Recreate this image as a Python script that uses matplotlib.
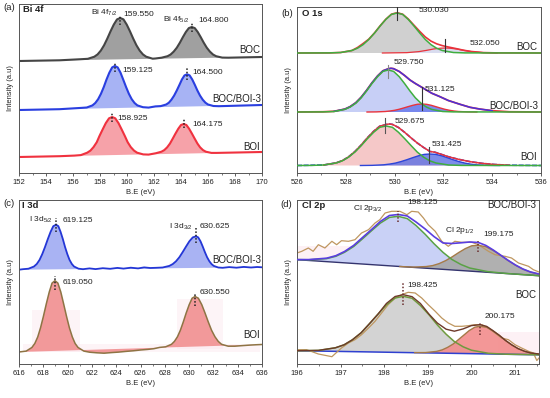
import matplotlib
matplotlib.use('Agg')
import matplotlib.pyplot as plt
from matplotlib.ticker import MultipleLocator
from matplotlib.patches import Rectangle

plt.rcParams['font.family'] = ['Liberation Sans', 'DejaVu Sans']
plt.rcParams['mathtext.fontset'] = 'custom'
plt.rcParams['mathtext.rm'] = 'Liberation Sans'
plt.rcParams['mathtext.it'] = 'Liberation Sans:italic'
plt.rcParams['mathtext.bf'] = 'Liberation Sans:bold'

# ---------------- Panel (a) Bi 4f ----------------
a_boc_x = [152, 155, 156.6, 157.1, 157.58, 157.82, 158.06, 158.3, 158.54, 158.78, 159.02, 159.26, 159.5, 159.74, 159.98, 160.22, 160.46, 160.7, 160.94, 161.18, 161.42, 161.9, 162.1, 162.56, 163.0, 163.23, 163.46, 163.69, 163.92, 164.14, 164.36, 164.58, 164.8, 165.02, 165.24, 165.46, 165.68, 165.91, 166.14, 166.37, 166.6, 167.05, 167.5, 170]
a_boc_y = [112, 112.7, 113.8, 114.2, 116.3, 118.6, 122.4, 127.7, 134.4, 141.7, 148.4, 153.6, 155.0, 153.6, 148.4, 141.7, 134.4, 127.7, 122.4, 118.6, 116.3, 114.3, 114.5, 115.3, 116.8, 118.5, 121.4, 125.3, 130.4, 135.9, 141.0, 144.9, 146.0, 144.9, 141.0, 135.9, 130.4, 125.3, 121.4, 118.5, 116.8, 115.4, 115.3, 116]
a_mix_x = [152, 155, 156.6, 157.02, 157.44, 157.65, 157.86, 158.07, 158.28, 158.48, 158.69, 158.9, 159.1, 159.31, 159.52, 159.72, 159.93, 160.14, 160.35, 160.56, 160.77, 161.18, 161.6, 162.1, 162.5, 162.9, 163.1, 163.29, 163.49, 163.69, 163.89, 164.07, 164.26, 164.45, 164.64, 164.83, 165.02, 165.21, 165.41, 165.61, 165.81, 166.0, 166.4, 166.8, 170]
a_mix_y = [63, 63.8, 65.1, 65.5, 67.6, 70.0, 73.8, 79.2, 86.0, 93.4, 100.3, 105.6, 107.0, 105.6, 100.3, 93.4, 86.0, 79.2, 73.8, 70.0, 67.6, 65.8, 65.4, 66.6, 66.9, 68.5, 70.3, 73.3, 77.4, 82.6, 88.3, 93.6, 97.6, 98.7, 97.6, 93.6, 88.3, 82.6, 77.4, 73.3, 70.3, 68.5, 67.0, 66.8, 68]
a_boi_x = [152, 155, 156.1, 156.58, 157.05, 157.29, 157.52, 157.76, 157.96, 158.2, 158.43, 158.67, 158.9, 159.13, 159.37, 159.6, 159.84, 160.05, 160.28, 160.52, 160.75, 161.2, 161.6, 162.15, 162.55, 162.76, 162.97, 163.18, 163.38, 163.59, 163.8, 164.0, 164.2, 164.4, 164.6, 164.81, 165.02, 165.22, 165.42, 165.63, 165.84, 166.25, 166.65, 170]
a_boi_y = [16, 16.8, 17.4, 17.9, 20.3, 22.4, 25.9, 30.8, 37.0, 43.7, 49.9, 54.7, 56.0, 54.7, 49.9, 43.7, 37.0, 30.8, 25.9, 22.4, 20.3, 18.6, 18.4, 19.8, 21.3, 22.9, 25.6, 29.4, 34.2, 39.4, 44.3, 48.0, 49.0, 48.0, 44.3, 39.4, 34.2, 29.4, 25.6, 22.9, 21.3, 20.1, 20.1, 21]
a_peaks = [159.5, 164.8, 159.1, 164.45, 158.9, 164.2]
a_peak_lo = [148, 141, 101, 93, 51, 45]
a_peak_hi = [158, 151, 111, 105, 60, 55]
a_peak_labels = ['159.550', '164.800', '159.125', '164.500', '158.925', '164.175']

# ---------------- Panel (b) O 1s ----------------
b_boc_c1_x = [526, 527.32, 527.79, 528.25, 528.48, 528.71, 528.94, 529.18, 529.41, 529.64, 529.87, 530.1, 530.33, 530.56, 530.79, 531.03, 531.26, 531.49, 531.72, 531.95, 532.41, 532.88, 536]
b_boc_c1_y = [120, 120.1, 120.5, 122.5, 124.8, 128.4, 133.5, 140.0, 147.1, 153.6, 158.6, 160.0, 158.6, 153.6, 147.1, 140.0, 133.5, 128.4, 124.8, 122.5, 120.5, 120.1, 120]
b_boc_c2_x = [529.5, 530.5, 531.0, 531.3, 531.6, 531.87, 532.07, 532.27, 532.54, 532.84, 533.14, 533.64, 534.2]
b_boc_c2_y = [120, 120.35, 121.4, 122.6, 124.0, 124.8, 125.0, 124.8, 124.0, 122.6, 121.4, 120.35, 120]
b_boc_env_x = [526, 527.32, 527.79, 528.25, 528.48, 528.71, 528.94, 529.18, 529.41, 529.64, 529.87, 530.1, 530.33, 530.56, 530.79, 531.03, 531.26, 531.49, 531.72, 531.95, 532.2, 532.5, 532.84, 533.14, 533.64, 534.2, 536]
b_boc_env_y = [120, 120.1, 120.5, 122.5, 125.5, 129.5, 133.8, 140.2, 147.3, 153.8, 158.8, 160.3, 158.8, 154.0, 147.9, 141.6, 136.0, 131.9, 129.2, 127.4, 126.0, 124.5, 122.7, 121.5, 120.4, 120.1, 120]

b_mix_c1_x = [526, 527.07, 527.52, 527.96, 528.18, 528.41, 528.63, 528.85, 529.07, 529.3, 529.52, 529.74, 529.96, 530.19, 530.41, 530.63, 530.85, 531.08, 531.3, 531.52, 531.97, 532.41, 536]
b_mix_c1_y = [61, 61.1, 61.5, 63.6, 66.0, 69.8, 75.2, 82.0, 89.4, 96.3, 101.6, 103.0, 101.6, 96.3, 89.4, 82.0, 75.2, 69.8, 66.0, 63.6, 61.5, 61.1, 61]
b_mix_c2_x = [528.87, 529.25, 529.62, 529.81, 530.0, 530.18, 530.37, 530.56, 530.75, 530.93, 531.12, 531.31, 531.5, 531.68, 531.87, 532.06, 532.25, 532.43, 532.62, 533.0, 533.37]
b_mix_c2_y = [61.0, 61.1, 61.5, 62.0, 62.7, 63.7, 65.0, 66.4, 67.7, 68.7, 69.0, 68.7, 67.7, 66.4, 65.0, 63.7, 62.7, 62.0, 61.5, 61.1, 61.0]
b_mix_env_x = [526, 527.07, 527.52, 527.96, 528.18, 528.41, 528.63, 528.85, 529.07, 529.3, 529.52, 529.74, 529.85, 529.96, 530.19, 530.41, 530.63, 530.85, 531.08, 531.3, 531.52, 531.86, 532.2, 532.68, 533.09, 533.5, 534.0, 534.7, 536]
b_mix_env_y = [61, 61.2, 61.7, 63.9, 66.4, 70.3, 75.8, 82.6, 90.1, 97.0, 102.2, 104.2, 104.7, 104.3, 101.5, 97.5, 93.0, 89.5, 86.2, 83.0, 79.8, 76.3, 72.5, 68.7, 65.7, 63.9, 62.3, 61.2, 61]

b_boi_c1_x = [526, 526.58, 527.09, 527.6, 527.86, 528.11, 528.37, 528.63, 528.88, 529.14, 529.39, 529.65, 529.91, 530.16, 530.42, 530.68, 530.93, 531.19, 531.44, 531.7, 532.21, 532.73, 536]
b_boi_c1_y = [7.5, 7.6, 8.0, 10.0, 12.2, 15.8, 20.9, 27.3, 34.2, 40.7, 45.7, 47.0, 45.7, 40.7, 34.2, 27.3, 20.9, 15.8, 12.2, 10.0, 8.0, 7.6, 7.5]
b_boi_c2_x = [528.6, 529.08, 529.55, 529.79, 530.03, 530.26, 530.5, 530.74, 530.98, 531.21, 531.45, 531.69, 531.93, 532.16, 532.4, 532.64, 532.88, 533.11, 533.35, 533.83, 534.3]
b_boi_c2_y = [7.5, 7.65, 8.2, 8.9, 9.9, 11.4, 13.25, 15.3, 17.2, 18.6, 19.0, 18.6, 17.2, 15.3, 13.25, 11.4, 9.9, 8.9, 8.2, 7.65, 7.5]
b_boi_env_x = [526, 527.09, 527.6, 527.86, 528.11, 528.37, 528.63, 528.88, 529.14, 529.39, 529.65, 529.78, 529.91, 530.16, 530.42, 530.68, 530.93, 531.19, 531.45, 531.65, 531.9, 532.2, 532.6, 533.1, 533.6, 534.1, 534.7, 536]
b_boi_env_y = [7.5, 8.0, 10.1, 12.4, 16.1, 21.4, 28.0, 35.1, 41.7, 46.8, 48.5, 49.0, 48.6, 45.5, 40.5, 35.0, 30.0, 25.5, 21.5, 20.8, 18.8, 16.3, 13.8, 11.3, 9.6, 8.5, 7.8, 7.5]
b_peaks = [530.09, 532.07, 529.74, 531.11, 529.62, 531.4]
b_peak_lo = [153, 121, 95, 63, 40, 10]
b_peak_hi = [166, 134, 108, 86, 55, 26]
b_peak_labels = ['530.030', '532.050', '529.750', '531.125', '529.675', '531.425']

# ---------------- Panel (c) I 3d ----------------
c_mix_x = [616, 616.32, 616.78, 617.23, 617.46, 617.69, 617.91, 618.14, 618.37, 618.6, 618.82, 619.05, 619.24, 619.42, 619.61, 619.79, 619.98, 620.16, 620.35, 620.53, 620.9, 621.27, 621.8, 622.3, 622.9, 623.5, 624.1, 624.6, 625.2, 625.8, 626.3, 626.8, 627.27, 627.82, 628.37, 628.65, 628.92, 629.2, 629.47, 629.75, 630.02, 630.3, 630.57, 630.75, 630.94, 631.12, 631.3, 631.48, 631.67, 631.85, 632.03, 632.4, 632.76, 633.3, 633.9, 634.5, 635.1, 635.6, 636]
c_mix_y = [94.3, 94.8, 95.3, 97.5, 100.0, 104.1, 109.8, 117.0, 124.9, 132.2, 137.8, 139.3, 137.8, 132.2, 124.9, 117.0, 109.8, 104.1, 100.0, 97.5, 95.3, 94.8, 95.6, 94.9, 95.8, 95.2, 96.1, 95.4, 96.3, 95.6, 96.6, 96.0, 96.2, 96.5, 98.1, 99.9, 102.7, 106.8, 111.9, 117.5, 122.7, 126.6, 127.7, 126.6, 122.7, 117.5, 111.9, 106.8, 102.7, 99.9, 98.1, 96.5, 96.2, 96.9, 96.3, 97.1, 96.5, 97.0, 96.7]
c_boi_x = [616, 616.59, 617.06, 617.3, 617.54, 617.77, 618.01, 618.25, 618.49, 618.72, 618.96, 619.2, 619.44, 619.67, 619.91, 620.15, 620.39, 620.62, 620.86, 621.34, 621.81, 622.4, 623.0, 623.6, 624.2, 624.8, 625.4, 626.0, 626.6, 627.1, 627.58, 628.07, 628.55, 628.79, 629.04, 629.28, 629.52, 629.76, 630.01, 630.25, 630.49, 630.76, 631.04, 631.31, 631.58, 631.85, 632.13, 632.4, 632.67, 633.22, 633.76, 634.4, 635.0, 635.6, 636]
c_boi_y = [12.0, 12.9, 16.5, 20.5, 27.0, 36.1, 47.7, 60.3, 72.0, 80.9, 83.3, 80.9, 72.0, 60.3, 47.7, 36.1, 27.0, 20.5, 16.5, 12.9, 11.8, 11.2, 10.8, 11.4, 11.9, 12.6, 13.2, 14.0, 14.6, 15.3, 16.6, 17.2, 19.7, 22.6, 27.2, 33.7, 42.0, 51.0, 59.4, 65.8, 67.5, 65.8, 59.4, 51.0, 42.0, 33.7, 27.2, 22.6, 19.7, 17.8, 17.8, 18.4, 18.9, 19.3, 19.5]
c_peaks = [619.05, 630.57, 618.96, 630.49]
c_peak_lo = [132, 121, 74, 58]
c_peak_hi = [146, 136, 88, 71]
c_peak_labels = ['619.125', '630.625', '619.050', '630.550']

# ---------------- Panel (d) Cl 2p ----------------
d_top_c1_x = [196.0, 196.27, 196.68, 196.89, 197.09, 197.3, 197.5, 197.71, 197.91, 198.12, 198.32, 198.53, 198.73, 198.94, 199.14, 199.35, 199.55, 199.76, 199.96, 200.37, 200.78, 201.55]
d_top_c1_y = [104.4, 104.2, 105.4, 107.7, 111.7, 117.5, 125.1, 133.3, 140.9, 146.6, 147.7, 145.4, 138.5, 129.7, 120.4, 111.6, 104.6, 99.5, 96.0, 92.4, 90.6, 88.3]
d_top_c2_x = [198.36, 198.66, 198.96, 199.11, 199.26, 199.41, 199.56, 199.71, 199.86, 200.01, 200.16, 200.33, 200.5, 200.67, 200.84, 201.01, 201.18, 201.35, 201.52, 201.55]
d_top_c2_y = [97.5, 96.9, 97.45, 98.4, 100.4, 103.4, 107.2, 111.5, 115.4, 118.25, 118.7, 117.3, 113.5, 108.7, 103.5, 98.8, 94.9, 92.0, 90.05, 88.3]
d_top_env_x = [196.0, 196.27, 196.68, 196.89, 197.09, 197.3, 197.5, 197.71, 197.91, 198.12, 198.32, 198.53, 198.73, 198.94, 199.14, 199.35, 199.55, 199.76, 199.96, 200.16, 200.33, 200.5, 200.67, 200.84, 201.01, 201.18, 201.35, 201.55]
d_top_env_y = [104.4, 104.4, 105.8, 108.3, 112.5, 118.6, 126.4, 134.5, 142.5, 148.5, 149.5, 148.0, 142.0, 135.0, 127.5, 121.0, 120.5, 121.2, 122.0, 121.5, 118.6, 114.0, 108.9, 103.7, 99.0, 95.0, 92.1, 90.0]
d_top_raw_x = [196.0, 196.11, 196.26, 196.37, 196.49, 196.64, 196.8, 196.91, 197.02, 197.18, 197.33, 197.48, 197.64, 197.79, 197.9, 198.02, 198.17, 198.36, 198.52, 198.63, 198.78, 198.9, 199.01, 199.17, 199.32, 199.47, 199.62, 199.78, 200.01, 200.16, 200.39, 200.54, 200.77, 200.92, 201.08, 201.31, 201.42, 201.55]
d_top_raw_y = [111.0, 112.7, 116.0, 112.7, 119.3, 116.0, 122.7, 119.3, 123.3, 122.7, 124.3, 131.0, 134.3, 141.0, 144.3, 151.0, 152.7, 152.7, 149.3, 152.7, 152.0, 146.0, 139.3, 132.7, 122.7, 117.7, 122.7, 121.7, 121.7, 119.3, 112.7, 109.3, 107.7, 106.0, 101.0, 97.7, 94.3, 92.0]
d_top_base_x = [196.0, 201.55]
d_top_base_y = [104.3, 88.3]

d_bot_c1_x = [196.0, 196.1, 196.49, 196.88, 197.08, 197.27, 197.47, 197.66, 197.86, 198.05, 198.25, 198.44, 198.64, 198.83, 199.03, 199.22, 199.42, 199.61, 199.81, 200.0, 200.39, 200.78, 201.55]
d_bot_c1_y = [13.3, 13.3, 13.6, 16.2, 19.2, 24.2, 31.2, 40.2, 50.0, 59.1, 66.0, 67.7, 65.7, 58.5, 49.1, 39.0, 29.8, 22.4, 17.2, 13.8, 10.7, 9.8, 9.2]
d_bot_c2_x = [198.7, 198.95, 199.2, 199.33, 199.45, 199.58, 199.7, 199.83, 199.95, 200.08, 200.2, 200.35, 200.49, 200.64, 200.78, 200.93, 201.07, 201.22, 201.36, 201.55, 201.55]
d_bot_c2_y = [11.35, 11.45, 12.6, 14.15, 16.55, 19.95, 24.3, 29.05, 33.45, 36.85, 37.7, 36.7, 33.1, 28.5, 23.55, 18.95, 15.35, 12.7, 11.0, 9.95, 9.2]
d_bot_env_x = [196.0, 196.49, 196.88, 197.08, 197.27, 197.47, 197.66, 197.86, 198.05, 198.25, 198.44, 198.64, 198.83, 199.03, 199.22, 199.42, 199.61, 199.81, 200.0, 200.2, 200.35, 200.49, 200.64, 200.78, 200.93, 201.07, 201.22, 201.36, 201.55]
d_bot_env_y = [13.3, 13.6, 16.2, 19.2, 24.2, 31.2, 40.2, 50.0, 60.5, 67.5, 69.3, 67.3, 60.5, 49.7, 40.9, 34.8, 32.8, 35.1, 38.4, 39.3, 37.6, 33.5, 28.7, 23.6, 19.0, 15.4, 12.7, 11.0, 10.0]
d_bot_raw_x = [196.0, 196.22, 196.49, 196.8, 197.02, 197.18, 197.33, 197.48, 197.64, 197.79, 197.94, 198.09, 198.25, 198.4, 198.55, 198.71, 198.86, 199.01, 199.17, 199.32, 199.47, 199.62, 199.78, 199.93, 200.08, 200.24, 200.39, 200.54, 200.69, 200.85, 201.0, 201.15, 201.31, 201.42, 201.5, 201.55]
d_bot_raw_y = [14.3, 14.3, 10.0, 7.3, 16.0, 21.0, 24.3, 29.3, 36.0, 42.7, 51.0, 59.3, 66.0, 69.3, 71.7, 71.0, 66.0, 59.3, 52.7, 46.0, 41.0, 37.7, 37.7, 38.3, 39.3, 39.3, 36.0, 31.0, 26.0, 24.3, 19.3, 16.0, 12.7, 11.0, 3.5, 6.0]
d_bot_base_x = [196.0, 201.55]
d_bot_base_y = [13.3, 9.2]
d_peaks = [198.32, 200.16, 198.44, 200.2]
d_peak_lo = [142, 112, 59, 29]
d_peak_hi = [153, 123, 81, 42]
d_peak_labels = ['198.125', '199.175', '198.425', '200.175']

# ---------------- figure ----------------
fig = plt.figure(figsize=(5.5, 3.98), dpi=100)
W, H = 550.0, 398.0


def make_ax(l, r, t, b):
    return fig.add_axes([l / W, 1 - b / H, (r - l) / W, (b - t) / H])


axa = make_ax(19, 262, 4, 173)
axb = make_ax(297, 541, 7, 173)
axc = make_ax(19, 262, 200, 364)
axd = make_ax(297, 539, 200, 364)

TXT = '#222222'
for ax, xl, yl, step in [(axa, (152, 170), (0, 169), 2), (axb, (526, 536), (0, 166), 2),
                         (axc, (616, 636), (0, 164), 2), (axd, (196, 201.55), (0, 164), 1)]:
    ax.set_xlim(*xl)
    ax.set_ylim(*yl)
    ax.set_yticks([])
    ax.xaxis.set_major_locator(MultipleLocator(step))
    ax.xaxis.set_minor_locator(MultipleLocator(step / 2))
    ax.tick_params(axis='x', which='major', length=2.2, width=0.6, labelsize=5.5, pad=2.2,
                   colors='#444444', labelcolor=TXT)
    ax.tick_params(axis='x', which='minor', length=1.3, width=0.5, colors='#444444')
    for s in ax.spines.values():
        s.set_linewidth(0.7)
        s.set_color('#555555')
    ax.set_xlabel('B.E (eV)', fontsize=5.5, labelpad=1.8, color=TXT)
    ax.set_ylabel('Intensity (a.u)', fontsize=5.4, labelpad=3.5, color=TXT)

# panel letters
for txt, xp, yp in [('(a)', 3, 7), ('(b)', 281, 14), ('(c)', 3, 204), ('(d)', 280, 205)]:
    fig.text(xp / W, 1 - yp / H, txt, fontsize=6.8, va='center', ha='left', color=TXT)

NUM = 6.0
LAB = 7.0

# ---- (a)
for xs, ys, lc, fc in [(a_boc_x, a_boc_y, '#454545', '#a0a0a0'),
                       (a_mix_x, a_mix_y, '#2a3fe0', '#a7b3f4'),
                       (a_boi_x, a_boi_y, '#f0323f', '#f6a2a9')]:
    axa.fill(xs, ys, color=fc, lw=0, zorder=1)
    axa.plot(xs, ys, color=lc, lw=1.5, zorder=2)
for xp, lo, hi in zip(a_peaks, a_peak_lo, a_peak_hi):
    axa.plot([xp, xp], [lo, hi], ls=(0, (1, 1.2)), color='#222222', lw=1.1, zorder=3)
a_lab_pos = [(159.71, 159), (165.28, 153), (159.64, 102), (164.83, 101), (159.27, 55), (164.83, 49)]
for (tx, ty), s in zip(a_lab_pos, a_peak_labels):
    axa.text(tx, ty, s, fontsize=NUM, va='center', ha='left', color=TXT)
axa.text(158.3, 160, 'Bi 4f$_{7/2}$', fontsize=NUM, va='center', ha='center', color=TXT)
axa.text(163.68, 153, 'Bi 4f$_{5/2}$', fontsize=NUM, va='center', ha='center', color=TXT)
axa.text(152.3, 163.5, 'Bi 4f', fontsize=6.8, fontweight='bold', va='center', ha='left', color=TXT)
axa.text(169.85, 123, 'BOC', fontsize=LAB, va='center', ha='right', color=TXT)
axa.text(169.95, 74, 'BOC/BOI-3', fontsize=LAB, va='center', ha='right', color=TXT)
axa.text(169.85, 26, 'BOI', fontsize=LAB, va='center', ha='right', color=TXT)

# ---- (b)
GREEN = '#3fae3f'
RED = '#e8333c'
axb.fill(b_boc_c1_x, b_boc_c1_y, color='#d0d0d0', lw=0, zorder=1)
axb.fill(b_boc_c2_x, b_boc_c2_y, color='#d9dcef', lw=0, zorder=1)
axb.plot(b_boc_c2_x, b_boc_c2_y, color=RED, lw=0.9, zorder=2)
axb.plot(b_boc_env_x, b_boc_env_y, color=RED, lw=1.2, zorder=2)
axb.plot(b_boc_c1_x, b_boc_c1_y, color=GREEN, lw=1.1, zorder=3)

axb.fill(b_mix_c1_x, b_mix_c1_y, color='#c7cff6', lw=0, zorder=1)
axb.fill(b_mix_c2_x, b_mix_c2_y, color='#6e80ec', lw=0, alpha=0.9, zorder=1)
axb.plot(b_mix_env_x, b_mix_env_y, color=RED, lw=1.3, zorder=2)
axb.plot(b_mix_env_x[2:-2], b_mix_env_y[2:-2], color='#4a32d6', lw=1.1, zorder=3)
axb.plot(b_mix_c2_x, b_mix_c2_y, color=RED, lw=1.0, zorder=3)
axb.plot(b_mix_c1_x, b_mix_c1_y, color=GREEN, lw=1.1, zorder=3)

axb.fill(b_boi_c1_x, b_boi_c1_y, color='#f5c8c8', lw=0, zorder=1)
axb.fill(b_boi_c2_x, b_boi_c2_y, color='#5c70e4', lw=0, alpha=0.8, zorder=1)
axb.plot(b_boi_env_x, b_boi_env_y, color='#2d45d8', lw=1.2, ls=(0, (3, 1)), zorder=2)
axb.plot(b_boi_c2_x, b_boi_c2_y, color='#2d45d8', lw=1.0, zorder=2)
axb.plot(b_boi_env_x[1:-1], b_boi_env_y[1:-1], color=RED, lw=1.1, zorder=3)
axb.plot(b_boi_c1_x, b_boi_c1_y, color=GREEN, lw=1.1, zorder=3)

b_mark_col = ['#333333', '#333333', '#888888', '#333333', '#555555', '#444444']
for xp, lo, hi, mc in zip(b_peaks, b_peak_lo, b_peak_hi, b_mark_col):
    axb.plot([xp, xp], [lo, hi], color=mc, lw=0.8, zorder=4)
b_lab_pos = [(530.97, 163), (533.09, 130), (529.95, 111), (531.25, 84), (530.0, 52), (531.52, 29)]
for (tx, ty), s in zip(b_lab_pos, b_peak_labels):
    axb.text(tx, ty, s, fontsize=NUM, va='center', ha='left', color=TXT)
axb.text(526.2, 160, 'O 1s', fontsize=6.8, fontweight='bold', va='center', ha='left', color=TXT)
axb.text(535.85, 126, 'BOC', fontsize=LAB, va='center', ha='right', color=TXT)
axb.text(535.9, 67, 'BOC/BOI-3', fontsize=LAB, va='center', ha='right', color=TXT)
axb.text(535.85, 16, 'BOI', fontsize=LAB, va='center', ha='right', color=TXT)

# ---- (c)
for (rx, ry, rw, rh) in [(617.1, 12, 3.9, 42), (629.0, 15, 3.8, 50), (616.3, 12, 19.5, 8)]:
    axc.add_patch(Rectangle((rx, ry), rw, rh, facecolor='#fbe1ea', edgecolor='none', alpha=0.35, zorder=0))
axc.fill(c_mix_x, c_mix_y, color='#a9b3f3', lw=0, zorder=1)
axc.plot(c_mix_x, c_mix_y, color='#2437d6', lw=1.3, zorder=2)
axc.fill(c_boi_x, c_boi_y, color='#f2999a', lw=0, zorder=1)
axc.plot(c_boi_x, c_boi_y, color='#8e7444', lw=1.1, zorder=2)
for xp, lo, hi in zip(c_peaks, c_peak_lo, c_peak_hi):
    axc.plot([xp, xp], [lo, hi], ls=(0, (1, 1.2)), color='#222222', lw=1.1, zorder=3)
c_lab_pos = [(619.62, 144), (630.9, 137), (619.62, 81), (630.9, 72)]
for (tx, ty), s in zip(c_lab_pos, c_peak_labels):
    axc.text(tx, ty, s, fontsize=NUM, va='center', ha='left', color=TXT)
axc.text(617.77, 144, 'I 3d$_{5/2}$', fontsize=NUM, va='center', ha='center', color=TXT)
axc.text(629.29, 137, 'I 3d$_{3/2}$', fontsize=NUM, va='center', ha='center', color=TXT)
axc.text(616.25, 158.5, 'I 3d', fontsize=6.8, fontweight='bold', va='center', ha='left', color=TXT)
axc.text(635.9, 104, 'BOC/BOI-3', fontsize=LAB, va='center', ha='right', color=TXT)
axc.text(635.8, 29, 'BOI', fontsize=LAB, va='center', ha='right', color=TXT)

# ---- (d)
axd.add_patch(Rectangle((196.0, 103), 1.7, 15, facecolor='#fbe1ea', edgecolor='none', alpha=0.45, zorder=0))
axd.add_patch(Rectangle((200.6, 9), 0.95, 23, facecolor='#fbe1ea', edgecolor='none', alpha=0.45, zorder=0))
axd.fill(d_top_c1_x, d_top_c1_y, color='#c9d1f6', lw=0, zorder=1)
axd.fill(d_top_c2_x, d_top_c2_y, color='#a3a3a3', lw=0, alpha=0.85, zorder=1)
axd.plot(d_top_base_x, d_top_base_y, color='#34346e', lw=1.0, zorder=2)
axd.plot(d_top_raw_x, d_top_raw_y, color='#bf9760', lw=0.9, zorder=2)
axd.plot(d_top_c2_x, d_top_c2_y, color='#a57a48', lw=1.0, zorder=3)
axd.plot(d_top_c1_x, d_top_c1_y, color='#5aa245', lw=1.1, zorder=3)
axd.plot(d_top_env_x, d_top_env_y, color='#5a3ee0', lw=1.2, zorder=4)

axd.fill(d_bot_c1_x, d_bot_c1_y, color='#d3d3d3', lw=0, zorder=1)
axd.fill(d_bot_c2_x, d_bot_c2_y, color='#f28c8c', lw=0, alpha=0.9, zorder=1)
axd.plot(d_bot_base_x, d_bot_base_y, color='#2f40d0', lw=1.1, zorder=2)
axd.plot(d_bot_raw_x, d_bot_raw_y, color='#bf9760', lw=0.9, zorder=2)
axd.plot(d_bot_c2_x, d_bot_c2_y, color='#a57a48', lw=1.0, zorder=3)
axd.plot(d_bot_c1_x, d_bot_c1_y, color='#6f9a3e', lw=1.1, zorder=3)
axd.plot(d_bot_env_x, d_bot_env_y, color='#6e3a2a', lw=1.0, zorder=4)

for xp, lo, hi in zip(d_peaks, d_peak_lo, d_peak_hi):
    axd.plot([xp, xp], [lo, hi], ls=(0, (1, 1.2)), color='#6b2f2f', lw=1.1, zorder=5)
d_lab_pos = [(198.52, 161), (200.27, 129), (198.52, 78.7), (200.31, 47.7)]
for (tx, ty), s in zip(d_lab_pos, d_peak_labels):
    axd.text(tx, ty, s, fontsize=NUM, va='center', ha='left', color=TXT)
axd.text(197.63, 156, 'Cl 2p$_{3/2}$', fontsize=NUM, va='center', ha='center', color=TXT)
axd.text(199.74, 133, 'Cl 2p$_{1/2}$', fontsize=NUM, va='center', ha='center', color=TXT)
axd.text(196.12, 158.5, 'Cl 2p', fontsize=6.8, fontweight='bold', va='center', ha='left', color=TXT)
axd.text(201.48, 159, 'BOC/BOI-3', fontsize=LAB, va='center', ha='right', color=TXT)
axd.text(201.48, 68.7, 'BOC', fontsize=LAB, va='center', ha='right', color=TXT)

fig.savefig('out.png', dpi=100)
